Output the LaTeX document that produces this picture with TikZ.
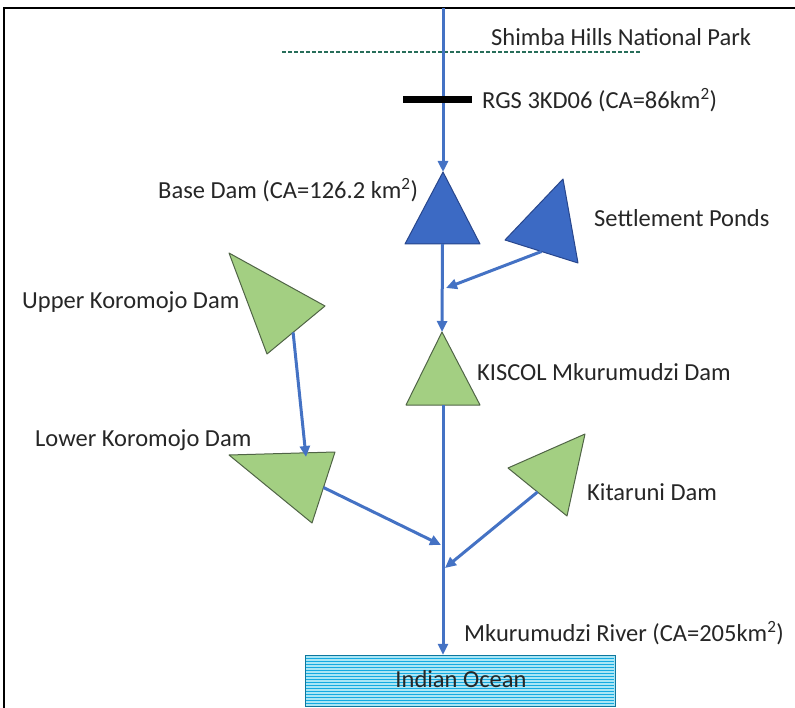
\documentclass[tikz,border=0pt]{standalone}
\usepackage{fontspec}
\setmainfont{Carlito}
\usepackage{tikz}
\usetikzlibrary{arrows.meta, calc}
\definecolor{riverblue}{RGB}{68,114,196}
\definecolor{pondblue}{RGB}{60,106,196}
\definecolor{pondedge}{RGB}{40,70,140}
\definecolor{damgreen}{RGB}{163,207,130}
\definecolor{damedge}{RGB}{80,100,70}
\definecolor{seafill}{RGB}{170,230,245}
\definecolor{sealine}{RGB}{20,170,225}
\definecolor{parkline}{RGB}{40,110,90}
\tikzset{
    x=1pt, y=-1pt, % one unit per pixel, y going down
    river/.style={draw=riverblue, line width=3pt}, % main channel and tributaries
    flow/.style={river, -{Triangle[length=11pt,width=10pt]}}, % flow direction
    bluedam/.style={fill=pondblue, draw=pondedge, line width=1pt, line join=round},
    greendam/.style={fill=damgreen, draw=damedge, line width=1pt, line join=round},
    label/.style={anchor=west, inner sep=0pt, font=\fontsize{24.5}{26}\selectfont, text=black!85},
}

\begin{document}
\begin{tikzpicture}
    \useasboundingbox (0,0) rectangle (795,708);
    % frame
    \draw[line width=2.5pt] (4,708) -- (4,8) -- (795,8);

    % park boundary and gauging station
    \draw[parkline, line width=2.5pt, dash pattern=on 3.5pt off 2.5pt] (282,52) coordinate (park-w) -- (640,52) coordinate (park-e);
    \node[label] (shimba) at (491,37) {Shimba Hills National Park};
    \coordinate (src) at (443,8);

    % reservoirs (vertices)
    \draw[bluedam] (443,172) coordinate (base-t) -- (405,244) coordinate (base-l) -- (480,244) coordinate (base-r) -- cycle;
    \draw[bluedam] (505,240) coordinate (pond-a) -- (563,179) coordinate (pond-b) -- (578,263) coordinate (pond-c) -- cycle;
    \draw[greendam] (442,332) coordinate (kis-t) -- (406,405) coordinate (kis-l) -- (480,405) coordinate (kis-r) -- cycle;
    \draw[greendam] (229,253) coordinate (up-a) -- (325,306) coordinate (up-b) -- (267,354) coordinate (up-c) -- cycle;
    \draw[greendam] (229,455) coordinate (low-a) -- (335,452) coordinate (low-b) -- (312,523) coordinate (low-c) -- cycle;
    \draw[greendam] (508,468) coordinate (kit-a) -- (585,434) coordinate (kit-b) -- (567,516) coordinate (kit-c) -- cycle;

    % ocean
    \node[draw=sealine!70!black, fill=seafill, minimum width=310pt, minimum height=51pt, inner sep=0pt] (ocean) at (460,680.5) {};
    \foreach \y in {658,661,...,704}
        \draw[sealine, line width=0.9pt] (306,\y) -- (614,\y);
    \node[inner sep=0pt, font=\fontsize{24.5}{26}\selectfont, text=black!85] (oceantext) at (461,679) {Indian Ocean};

    % junctions on the main channel
    \coordinate (j1) at (446,288);
    \coordinate (j2) at (441,545);
    \coordinate (j3) at (445,568);

    % main channel
    \draw[flow] (src) -- (base-t);
    \draw[flow] ($(base-l)!0.5!(base-r)$) -- (kis-t);
    \draw[flow] ($(kis-l)!0.5!(kis-r)$) -- (ocean.north -| src);

    % tributaries
    \draw[flow] ($(pond-a)!0.5!(pond-c)$) -- (j1);
    \draw[flow] ($(up-b)!0.55!(up-c)$) -- (306,457) coordinate (low-in);
    \draw[flow] ($(low-b)!0.5!(low-c)$) -- (j2);
    \draw[flow] ($(kit-a)!0.5!(kit-c)$) -- (j3);

    % gauging station bar
    \draw[line width=7pt] (403,100) coordinate (rgs-w) -- (472,100) coordinate (rgs-e);

    % labels
    \node[label] (rgs) at (482,100) {RGS 3KD06 (CA=86km\textsuperscript{2})};
    \node[label] (base) at (158,190) {Base Dam (CA=126.2 km\textsuperscript{2})};
    \node[label] (ponds) at (594,218) {Settlement Ponds};
    \node[label] (upper) at (22,302) {Upper Koromojo Dam};
    \node[label] (kiscol) at (477,372) {KISCOL Mkurumudzi Dam};
    \node[label] (lower) at (35,440) {Lower Koromojo Dam};
    \node[label] (kitaruni) at (587,492) {Kitaruni Dam};
    \node[label] (river) at (464,633) {Mkurumudzi River (CA=205km\textsuperscript{2})};
\end{tikzpicture}
\end{document}
